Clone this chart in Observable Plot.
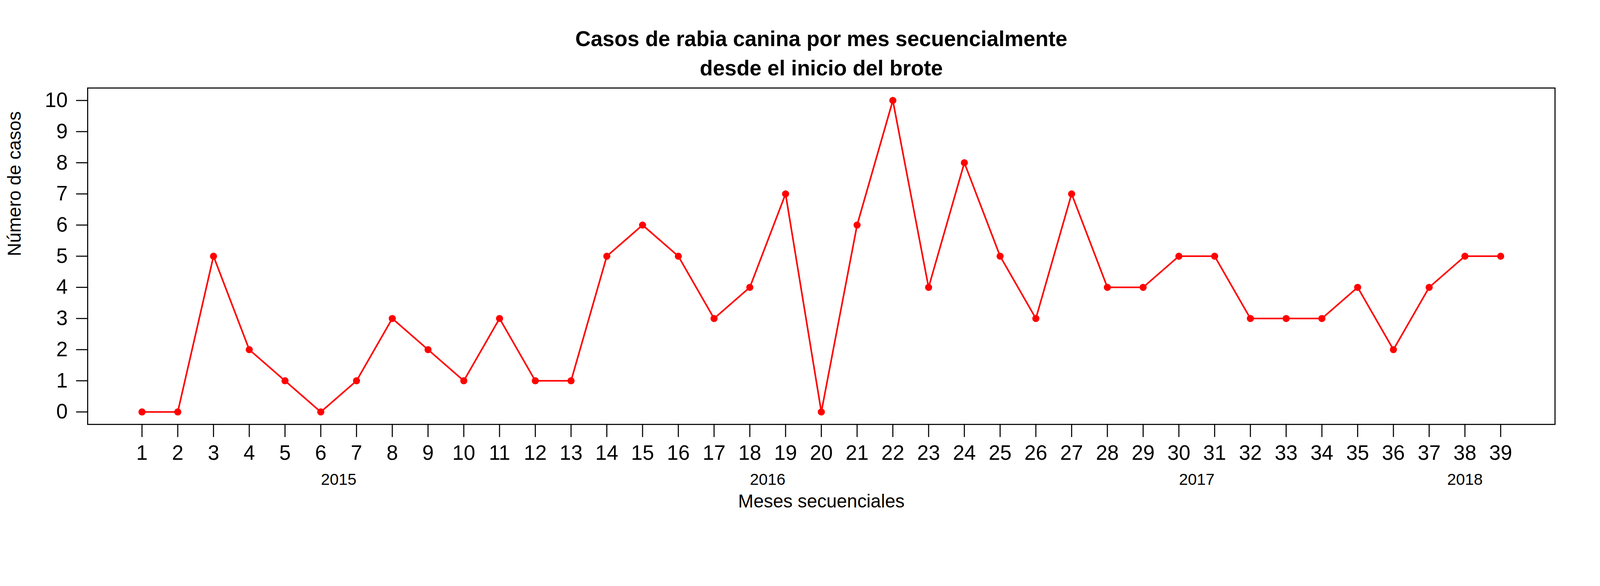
<!DOCTYPE html>
<html>
<head>
<meta charset="utf-8">
<script src="https://cdn.jsdelivr.net/npm/d3@7"></script>
<script src="https://cdn.jsdelivr.net/npm/@observablehq/plot@0.6"></script>
<style>body{margin:0;background:#fff}</style>
</head>
<body>
<div id="grafico"></div>
<script>
// meses secuenciales y casos
let meses = d3.range(1, 40);
let casos = [0,0,5,2,1,0,1,3,2,1,3,1,1,5,6,5,3,4,7,0,6,10,4,8,5,3,7,4,4,5,5,3,3,3,4,2,4,5,5];
let anios = ["2015", "2016", "2017", "2018"];
let anioCentro = [6.5, 18.5, 30.5, 38];
let yTicks = d3.range(0, 11);

let ChartData = meses.map((m, i) => ({mes: m, casos: casos[i]}));
let yearData = anios.map((a, i) => ({anio: a, x: anioCentro[i]}));

let chart = Plot.plot({
    width: 4500,
    height: 1500,
    marginLeft: 246,
    marginRight: 127,
    marginTop: 247,
    marginBottom: 307,
    style: {fontFamily: "Liberation Sans, Arial, sans-serif", color: "black", background: "white"},
    x: {domain: [-0.52, 40.52]},
    y: {domain: [-0.4, 10.4]},
    marks: [
        Plot.frame({stroke: "black", strokeWidth: 3}),
        Plot.axisX(meses, {tickSize: 36, tickPadding: 22, fontSize: 58, strokeWidth: 3, label: null, tickFormat: d => d}),
        Plot.axisY(yTicks, {tickSize: 32, tickPadding: 24, fontSize: 58, strokeWidth: 3, label: null, tickFormat: d => d}),
        Plot.line(ChartData, {x: "mes", y: "casos", stroke: "red", strokeWidth: 4.5}),
        Plot.dot(ChartData, {x: "mes", y: "casos", fill: "red", r: 10}),
        Plot.text(yearData, {x: "x", text: "anio", frameAnchor: "bottom", dy: 170, fontSize: 45}),
        Plot.text(["Meses secuenciales"], {frameAnchor: "bottom", dy: 234, fontSize: 52}),
        Plot.text(["Número de casos"], {frameAnchor: "left", dx: -205, rotate: -90, fontSize: 52}),
        Plot.text(["Casos de rabia canina por mes secuencialmente"], {frameAnchor: "top", dy: -160, fontSize: 60, fontWeight: "bold"}),
        Plot.text(["desde el inicio del brote"], {frameAnchor: "top", dy: -78, fontSize: 60, fontWeight: "bold"})
    ]
});

d3.select('#grafico').append(() => chart)
</script>
</body>
</html>
